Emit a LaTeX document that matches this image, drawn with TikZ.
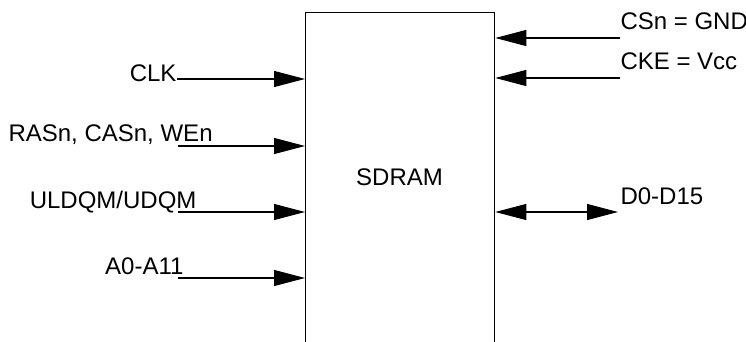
\documentclass[tikz,border=0pt]{standalone}
\usepackage{fontspec}
\setmainfont{Liberation Sans}
\usetikzlibrary{arrows.meta,positioning}

\begin{document}
\begin{tikzpicture}[>={Triangle[length=15.5pt,width=8pt]},x=0.5pt,y=-0.5pt,line width=0.55pt]
\useasboundingbox (0,0) rectangle (746,342);
\clip (0,0) rectangle (746,342);
\node[draw,line width=0.65pt,minimum width=94.5pt,minimum height=190pt,inner sep=0pt,anchor=north west] (sdram) at (305,12) {};
\node[font=\fontsize{12}{14}\selectfont] (title) at (399.5,177) {SDRAM};
% inputs on the left
\coordinate (clk) at (177,79); \coordinate (ctl) at (178,146); \coordinate (dqm) at (178,212); \coordinate (adr) at (178,278);
\node[font=\fontsize{12}{14}\selectfont,inner sep=0pt,anchor=base east] (clktxt) at (177,82) {CLK};
\node[font=\fontsize{12}{14}\selectfont,inner sep=0pt,anchor=base west] (ctltxt) at (8,142) {RASn, CASn, WEn};
\node[font=\fontsize{12}{14}\selectfont,inner sep=0pt,anchor=base east] (dqmtxt) at (197,209) {ULDQM/UDQM};
\node[font=\fontsize{12}{14}\selectfont,inner sep=0pt,anchor=base east] (adrtxt) at (184,275) {A0-A11};
\draw[->] (clk) -- (clk -| sdram.west);
\draw[->] (ctl) -- (ctl -| sdram.west);
\draw[->] (dqm) -- (dqm -| sdram.west);
\draw[->] (adr) -- (adr -| sdram.west);
% tied inputs and data bus on the right
\coordinate (csn) at (620,38); \coordinate (cke) at (620,78); \coordinate (dq) at (618,212);
\node[font=\fontsize{12}{14}\selectfont,inner sep=0pt,anchor=base west] (csntxt) at (620,30) {CSn = GND};
\node[font=\fontsize{12}{14}\selectfont,inner sep=0pt,anchor=base west] (cketxt) at (620,70) {CKE = Vcc};
\node[font=\fontsize{12}{14}\selectfont,inner sep=0pt,anchor=base west] (dqtxt) at (620,205) {D0-D15};
\draw[->] (csn) -- (csn -| sdram.east);
\draw[->] (cke) -- (cke -| sdram.east);
\draw[<->] (dq -| sdram.east) -- (dq);
\end{tikzpicture}
\end{document}
